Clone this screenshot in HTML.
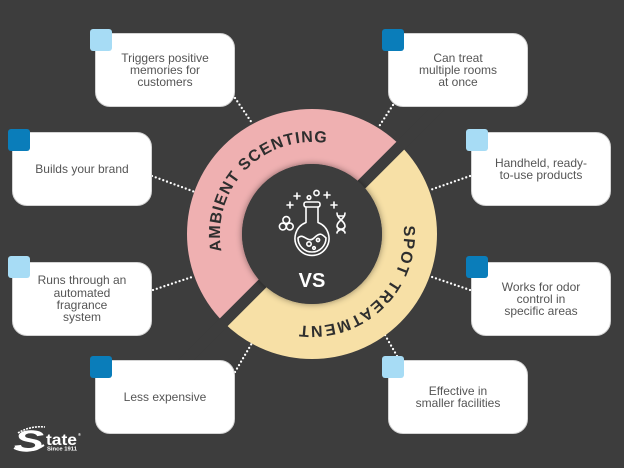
<!DOCTYPE html>
<html><head><meta charset="utf-8">
<style>
html,body{margin:0;padding:0;}
body{width:624px;height:468px;background:#3d3d3d;position:relative;overflow:hidden;font-family:"Liberation Sans",sans-serif;}
svg.bg{position:absolute;left:0;top:0;}
.box{position:absolute;width:138px;height:72px;background:#fff;border:1px solid #d4d4d4;border-radius:15px;display:flex;align-items:center;justify-content:center;text-align:center;color:#555;font-size:12px;line-height:12.3px;}
.sq{position:absolute;width:22px;height:22px;border-radius:3px;}
.lb{background:#a7dcf5;}
.db{background:#0a7dba;}
</style></head>
<body>
<svg class="bg" width="624" height="468" viewBox="0 0 624 468">
<defs>
<clipPath id="cp"><polygon points="0,0 546,0 0,546"/></clipPath>
<clipPath id="cy"><polygon points="546,0 800,0 800,800 0,800 0,546"/></clipPath>
<filter id="sh" x="-30%" y="-30%" width="160%" height="160%"><feDropShadow dx="0" dy="0" stdDeviation="3.5" flood-color="#000" flood-opacity="0.45"/></filter>
<path id="pp" d="M312,326 A92,92 0 1 1 312,142 A92,92 0 1 1 312,326"/>
<path id="py" d="M312,142 A92,92 0 1 1 312,326 A92,92 0 1 1 312,142"/>
</defs>
<g stroke="#fff" stroke-width="2.3" stroke-linecap="round" stroke-dasharray="0 4" fill="none">
<line x1="235" y1="98" x2="252" y2="123"/>
<line x1="152" y1="176" x2="195" y2="192"/>
<line x1="153" y1="290" x2="192" y2="277"/>
<line x1="235" y1="372" x2="252" y2="343"/>
<line x1="393" y1="105" x2="378" y2="128"/>
<line x1="470" y1="176" x2="430" y2="190"/>
<line x1="470" y1="290" x2="432" y2="277"/>
<line x1="397" y1="356" x2="385" y2="335"/>
</g>
<circle cx="312" cy="234" r="97.5" fill="none" stroke="#efb0b1" stroke-width="55" clip-path="url(#cp)"/>
<circle cx="312" cy="234" r="97.5" fill="none" stroke="#f7e0a6" stroke-width="55" clip-path="url(#cy)"/>
<line x1="172" y1="374" x2="452" y2="94" stroke="#3d3d3d" stroke-width="11"/>
<circle cx="312" cy="234" r="70" fill="#3d3d3d" filter="url(#sh)"/>
<text font-family="Liberation Sans, sans-serif" font-weight="bold" font-size="16" fill="#2e2e2e"><textPath href="#pp" startOffset="127" textLength="176" lengthAdjust="spacing">AMBIENT SCENTING</textPath></text>
<text font-family="Liberation Sans, sans-serif" font-weight="bold" font-size="16" fill="#2e2e2e"><textPath href="#py" startOffset="136" textLength="165" lengthAdjust="spacing">SPOT TREATMENT</textPath></text>
<!-- flask icon -->
<g fill="none" stroke="#fff" stroke-width="1.6" stroke-linecap="round" stroke-linejoin="round">
<rect x="304" y="202" width="16" height="5" rx="2"/>
<path d="M306,207 L306,222.5 A17,17 0 1 0 318,222.5 L318,207"/>
<path d="M298,238 C303,232 308,244 314,238 S322,234 326,238 A14,14 0 0 1 298,238 Z"/>
<circle cx="309" cy="244" r="2.2"/>
<circle cx="318" cy="240" r="1.6"/>
<circle cx="314" cy="248" r="1.3"/>
<circle cx="316.5" cy="193" r="2.6"/>
<circle cx="309" cy="197.5" r="1.8"/>
<path d="M297,193 v6 M294,196 h6 M290,202 v6 M287,205 h6 M327,192 v6 M324,195 h6 M334,202 v6 M331,205 h6"/>
<circle cx="286.3" cy="220" r="3.4"/>
<circle cx="282.8" cy="226.5" r="3.4"/>
<circle cx="289.8" cy="226.5" r="3.4"/>
<path d="M337,213 C337,219 345,221 345,226 C345,230 337,229 337,233 M345,213 C345,219 337,221 337,226 C337,230 345,229 345,233"/>
<path d="M338,216 h6 M338,229 h6"/>
</g>
<text x="312" y="287" text-anchor="middle" font-family="Liberation Sans, sans-serif" font-weight="bold" font-size="20" fill="#fff">VS</text>
<!-- logo -->
<g fill="#fff" font-family="Liberation Sans, sans-serif" font-weight="bold">
<path d="M18,433 C26,428 36,426 45,427" stroke="#fff" stroke-width="1.6" fill="none" stroke-dasharray="2 1"/>
<path d="M14,448 C22,452 34,452 44,445" stroke="#fff" stroke-width="2" fill="none"/>
<text x="0" y="0" font-size="30" font-style="italic" transform="translate(14,451) scale(1.5,1)">S</text>
<text x="46" y="445" font-size="16" textLength="31" lengthAdjust="spacingAndGlyphs">tate</text>
<text x="78" y="436" font-size="4">®</text>
<text x="47" y="450.5" font-size="5.5" textLength="30" lengthAdjust="spacingAndGlyphs">Since 1911</text>
</g>
</svg>

<div class="box" style="left:95px;top:33px;">Triggers positive<br>memories for<br>customers</div>
<div class="sq lb" style="left:90px;top:29px;"></div>

<div class="box" style="left:12px;top:132px;">Builds your brand</div>
<div class="sq db" style="left:8px;top:129px;"></div>

<div class="box" style="left:12px;top:262px;">Runs through an<br>automated<br>fragrance<br>system</div>
<div class="sq lb" style="left:8px;top:256px;"></div>

<div class="box" style="left:95px;top:360px;">Less expensive</div>
<div class="sq db" style="left:90px;top:356px;"></div>

<div class="box" style="left:388px;top:33px;">Can treat<br>multiple rooms<br>at once</div>
<div class="sq db" style="left:382px;top:29px;"></div>

<div class="box" style="left:471px;top:132px;">Handheld, ready-<br>to-use products</div>
<div class="sq lb" style="left:466px;top:129px;"></div>

<div class="box" style="left:471px;top:262px;">Works for odor<br>control in<br>specific areas</div>
<div class="sq db" style="left:466px;top:256px;"></div>

<div class="box" style="left:388px;top:360px;">Effective in<br>smaller facilities</div>
<div class="sq lb" style="left:382px;top:356px;"></div>
</body></html>
